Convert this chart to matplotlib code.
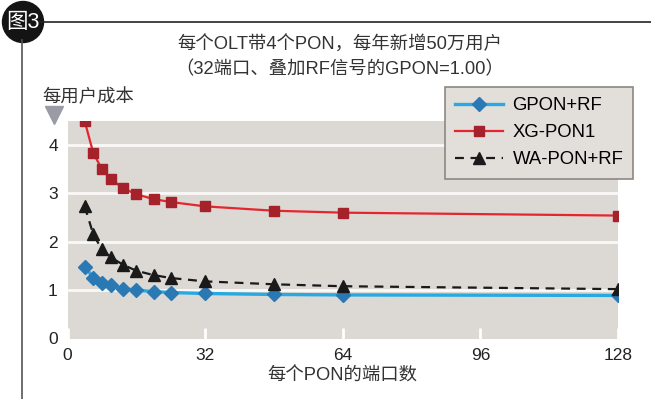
import matplotlib.pyplot as plt
from matplotlib.patches import Circle
from matplotlib.lines import Line2D

# 每个PON的端口数
ports = [4, 6, 8, 10, 13, 16, 20, 24, 32, 48, 64, 128]

# 每用户成本（32端口、叠加RF信号的GPON=1.00）
gpon_rf = [1.48, 1.26, 1.15, 1.10, 1.03, 1.00, 0.97, 0.95, 0.93, 0.91, 0.90, 0.89]
xg_pon1 = [4.49, 3.83, 3.50, 3.30, 3.10, 2.98, 2.88, 2.82, 2.73, 2.64, 2.60, 2.54]
wa_pon_rf = [2.73, 2.15, 1.84, 1.68, 1.52, 1.40, 1.31, 1.25, 1.18, 1.12, 1.08, 1.02]

x_ticks = [0, 32, 64, 96, 128]
y_ticks = [0, 1, 2, 3, 4]

FONT = ["Liberation Sans", "Noto Sans CJK SC"]
plt.rcParams["font.family"] = FONT

W, H = 651, 399
fig = plt.figure(figsize=(W / 100, H / 100), dpi=100)

# plot area
ax = fig.add_axes([67.5 / W, 1 - 338.5 / H, 550.5 / W, 217.8 / H])
ax.set_facecolor("#dcd8d4")
for s in ax.spines.values():
    s.set_visible(False)

ax.set_xlim(0, 128)
ax.set_ylim(0, 4.5)
ax.set_xticks(x_ticks)
ax.set_yticks(y_ticks)
ax.tick_params(axis="x", direction="in", length=8, width=2, color="white",
               labelsize=12.5, pad=7, labelcolor="#222222")
ax.tick_params(axis="y", length=0, labelsize=12.5, pad=7, labelcolor="#222222")
for y in y_ticks[1:]:
    ax.axhline(y, color="white", lw=2, alpha=0.85, zorder=1)

ax.plot(ports, gpon_rf, color="#27a9e1", lw=2.4, marker="D", ms=7,
        mfc="#2a78b4", mec="#2a78b4", zorder=3, label="GPON+RF")
ax.plot(ports, xg_pon1, color="#e5262e", lw=1.6, marker="s", ms=7.5,
        mfc="#a5222b", mec="#a5222b", zorder=3, label="XG-PON1")
ax.plot(ports, wa_pon_rf, color="#1a1a1a", lw=1.6, ls=(0, (4, 3)), marker="^",
        ms=8.5, mfc="#1a1a1a", mec="#1a1a1a", zorder=3, label="WA-PON+RF")

ax.set_xlabel("每个PON的端口数", fontsize=13.2, color="#333333", labelpad=3)

leg = ax.legend(loc="upper left", bbox_to_anchor=(445 / W, 1 - 87 / H),
                bbox_transform=fig.transFigure, fontsize=13.3, frameon=True,
                fancybox=False, framealpha=1, handlelength=2.6,
                handletextpad=0.5, labelspacing=0.55, borderpad=0.55,
                borderaxespad=0)
leg.get_frame().set_facecolor("#e2deda")
leg.get_frame().set_edgecolor("#8c8782")
leg.get_frame().set_linewidth(1.2)

# titles and axis caption
fig.text(340 / W, 1 - 45 / H, "每个OLT带4个PON，每年新增50万用户",
         ha="center", va="center", fontsize=13.2, color="#333333")
fig.text(340 / W, 1 - 70 / H, "（32端口、叠加RF信号的GPON=1.00）",
         ha="center", va="center", fontsize=13.2, color="#333333")
fig.text(42 / W, 1 - 97 / H, "每用户成本", ha="left", va="center",
         fontsize=13.2, color="#333333")

# little down-pointing marker under the y caption
fig.add_artist(Line2D([54 / W], [1 - 115 / H], marker="v", ms=13,
                      color="#9b9ba6", mec="#9b9ba6",
                      transform=fig.transFigure))

# frame lines and the figure badge
fig.add_artist(Line2D([40 / W, 1], [1 - 22 / H, 1 - 22 / H], color="#222222",
                      lw=1.2, transform=fig.transFigure))
fig.add_artist(Line2D([22 / W, 22 / W], [1 - 40 / H, 0], color="#555555",
                      lw=1.2, transform=fig.transFigure))
badge = Circle((23, H - 22), 20.5, color="#141414",
               transform=None)
fig.add_artist(badge)
fig.text(23 / W, 1 - 22 / H, "图3", ha="center", va="center",
         fontsize=15.5, color="white")

fig.savefig("out.png", dpi=100)
